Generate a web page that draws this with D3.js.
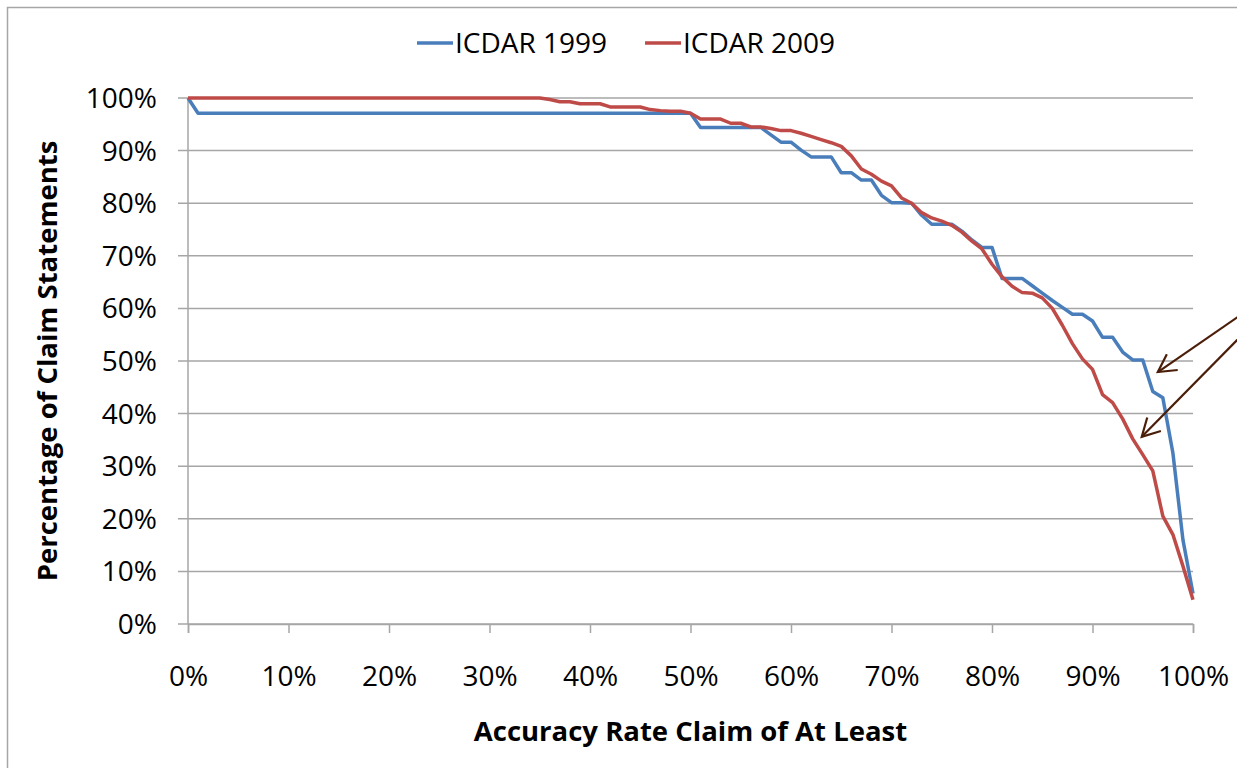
<!DOCTYPE html>
<html>
<head>
<meta charset="utf-8">
<script src="https://cdn.jsdelivr.net/npm/d3@7"></script>
<style>
  body { margin: 0; background: #fff; }
  text { font-family: "Open Sans", sans-serif; fill: #000; }
</style>
</head>
<body>
<div id="chart"></div>
<script>
// accuracy claim thresholds (percent), 0..100 in 1% steps
const accuracy = d3.range(0, 101);

const icdar1999 = [
  100, 97.1, 97.1, 97.1, 97.1, 97.1, 97.1, 97.1, 97.1, 97.1,
  97.1, 97.1, 97.1, 97.1, 97.1, 97.1, 97.1, 97.1, 97.1, 97.1,
  97.1, 97.1, 97.1, 97.1, 97.1, 97.1, 97.1, 97.1, 97.1, 97.1,
  97.1, 97.1, 97.1, 97.1, 97.1, 97.1, 97.1, 97.1, 97.1, 97.1,
  97.1, 97.1, 97.1, 97.1, 97.1, 97.1, 97.1, 97.1, 97.1, 97.1,
  97.1, 94.4, 94.4, 94.4, 94.4, 94.4, 94.4, 94.4, 93.0, 91.6,
  91.6, 90.1, 88.8, 88.8, 88.8, 85.8, 85.8, 84.4, 84.4, 81.5,
  80.1, 80.1, 80.0, 77.7, 76.0, 76.0, 76.0, 74.7, 73.0, 71.6,
  71.6, 65.7, 65.7, 65.7, 64.3, 62.9, 61.5, 60.2, 58.9, 58.9,
  57.6, 54.5, 54.5, 51.7, 50.2, 50.2, 44.2, 43.0, 32.5, 16.0,
  5.8
];

const icdar2009 = [
  100, 100, 100, 100, 100, 100, 100, 100, 100, 100,
  100, 100, 100, 100, 100, 100, 100, 100, 100, 100,
  100, 100, 100, 100, 100, 100, 100, 100, 100, 100,
  100, 100, 100, 100, 100, 100, 99.7, 99.3, 99.3, 98.9,
  98.9, 98.9, 98.3, 98.3, 98.3, 98.3, 97.8, 97.6, 97.5, 97.5,
  97.1, 96.0, 96.0, 96.0, 95.2, 95.2, 94.5, 94.5, 94.2, 93.8,
  93.8, 93.3, 92.7, 92.1, 91.5, 90.8, 89.0, 86.5, 85.5, 84.2,
  83.3, 81.0, 80.0, 78.2, 77.2, 76.6, 75.8, 74.5, 72.8, 71.3,
  68.4, 66.0, 64.2, 63.0, 62.9, 62.0, 60.0, 56.8, 53.3, 50.4,
  48.4, 43.6, 42.1, 39.0, 35.2, 32.2, 29.1, 20.5, 17.0, 11.0,
  4.6
];

const seriesNames = ["ICDAR 1999", "ICDAR 2009"];
const seriesColors = ["#4a7ebb", "#be4b48"];
const xTicks = d3.range(0, 101, 10);
const yTicks = d3.range(0, 101, 10);

// annotation arrows: [tail, tip] in data units
const arrows = [
  [[106, 60.4], [96.5, 47.9]],
  [[106, 57.1], [94.9, 35.6]]
];

const width = 1237, height = 768;
const margin = { left: 188, right: 44, top: 98, bottom: 144 };

const svg = d3.select("#chart").append("svg")
  .attr("width", width)
  .attr("height", height);

// outer chart border (runs off the right/bottom edge)
svg.append("rect")
  .attr("x", 7.5).attr("y", 7.5)
  .attr("width", 1300).attr("height", 800)
  .attr("fill", "#fff")
  .attr("stroke", "#a6a6a6")
  .attr("stroke-width", 1.5);

const x = d3.scaleLinear().domain([0, 100]).range([margin.left, width - margin.right]);
const y = d3.scaleLinear().domain([0, 100]).range([height - margin.bottom, margin.top]);

// gridlines
svg.append("g")
  .selectAll("line")
  .data(yTicks)
  .join("line")
  .attr("x1", x(0) - 10).attr("x2", x(100))
  .attr("y1", d => y(d)).attr("y2", d => y(d))
  .attr("stroke", "#a6a6a6")
  .attr("stroke-width", 1.5);

// y axis labels
svg.append("g")
  .selectAll("text")
  .data(yTicks)
  .join("text")
  .attr("x", x(0) - 31)
  .attr("y", d => y(d))
  .attr("dy", "0.36em")
  .attr("text-anchor", "end")
  .style("font-size", "28px")
  .text(d => d + "%");

// y axis line
svg.append("line")
  .attr("x1", x(0)).attr("x2", x(0))
  .attr("y1", y(0)).attr("y2", y(100))
  .attr("stroke", "#a6a6a6").attr("stroke-width", 1.5);

// x axis
const xAxis = svg.append("g")
  .attr("transform", `translate(0,${y(0)})`)
  .call(d3.axisBottom(x).tickValues(xTicks).tickSize(9).tickFormat(d => d + "%"));
xAxis.select(".domain").attr("stroke", "#a6a6a6").attr("stroke-width", 1.5);
xAxis.selectAll(".tick line").attr("stroke", "#a6a6a6").attr("stroke-width", 1.5);
xAxis.selectAll(".tick text")
  .attr("y", 52)
  .attr("dy", "0.36em")
  .style("font-family", "'Open Sans', sans-serif")
  .style("font-size", "28px")
  .attr("fill", "#000");

// series lines
const line = d3.line()
  .x((d, i) => x(accuracy[i]))
  .y(d => y(d));

[icdar1999, icdar2009].forEach((vals, i) => {
  svg.append("path")
    .datum(vals)
    .attr("d", line)
    .attr("fill", "none")
    .attr("stroke", seriesColors[i])
    .attr("stroke-width", 3.5)
    .attr("stroke-linejoin", "round");
});

// arrows
const arrowColor = "#4a1e08";
arrows.forEach(([tail, tip]) => {
  const x0 = x(tail[0]), y0 = y(tail[1]);
  const x1 = x(tip[0]), y1 = y(tip[1]);
  svg.append("line")
    .attr("x1", x0).attr("y1", y0)
    .attr("x2", x1).attr("y2", y1)
    .attr("stroke", arrowColor).attr("stroke-width", 2.2);
  const ang = Math.atan2(y0 - y1, x0 - x1);
  const len = 20, spread = 0.5;
  const pts = [
    [x1 + len * Math.cos(ang + spread), y1 + len * Math.sin(ang + spread)],
    [x1, y1],
    [x1 + len * Math.cos(ang - spread), y1 + len * Math.sin(ang - spread)]
  ];
  svg.append("path")
    .attr("d", d3.line()(pts))
    .attr("fill", "none")
    .attr("stroke", arrowColor).attr("stroke-width", 2.2);
});

// legend
const legendX = [417, 645];
const legend = svg.append("g");
seriesNames.forEach((name, i) => {
  legend.append("line")
    .attr("x1", legendX[i]).attr("x2", legendX[i] + 36)
    .attr("y1", 43).attr("y2", 43)
    .attr("stroke", seriesColors[i]).attr("stroke-width", 3.5);
  legend.append("text")
    .attr("x", legendX[i] + 38)
    .attr("y", 43)
    .attr("dy", "0.36em")
    .style("font-size", "28px")
    .text(name);
});

// axis titles
svg.append("text")
  .attr("x", (x(0) + x(100)) / 2)
  .attr("y", 741)
  .attr("text-anchor", "middle")
  .style("font-size", "27.5px")
  .style("font-weight", "bold")
  .text("Accuracy Rate Claim of At Least");

svg.append("text")
  .attr("transform", `translate(57,${(y(0) + y(100)) / 2}) rotate(-90)`)
  .attr("text-anchor", "middle")
  .style("font-size", "27.5px")
  .style("font-weight", "bold")
  .text("Percentage of Claim Statements");
</script>
</body>
</html>
